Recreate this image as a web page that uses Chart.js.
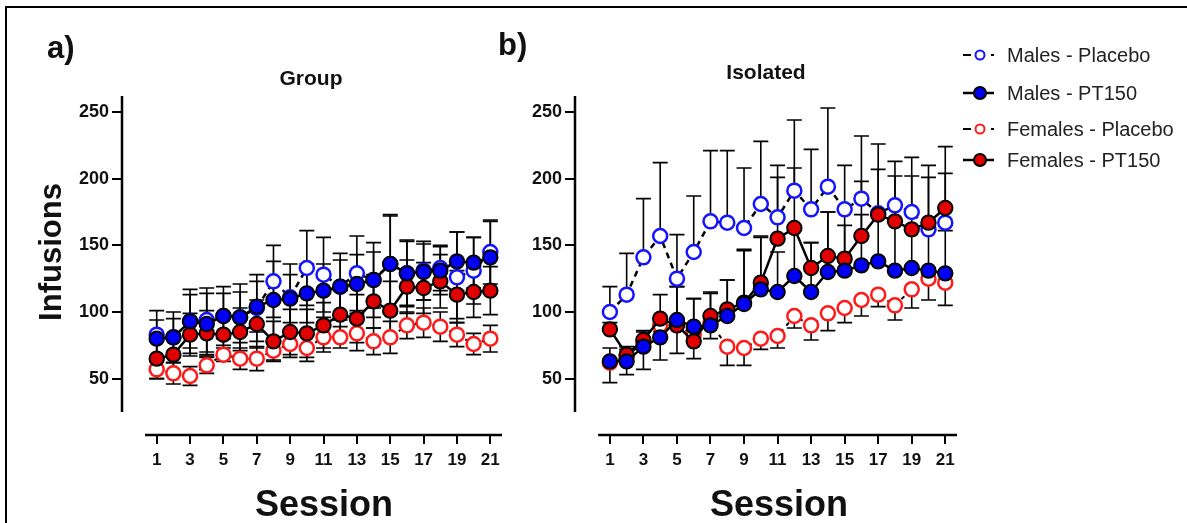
<!DOCTYPE html>
<html>
<head>
<meta charset="utf-8">
<script src="https://cdn.jsdelivr.net/npm/chart.js@4.4.0/dist/chart.umd.min.js"></script>
<style>
  html, body { margin: 0; padding: 0; background: #fff; }
  body { width: 1187px; height: 523px; position: relative; overflow: hidden; font-family: 'Liberation Sans', Arial, sans-serif; }
  canvas { position: absolute; top: 0; }
  #chartGroup { left: 0; }
  #chartIsolated { left: 520px; }
  .frame { position: absolute; left: 5px; top: 6px; width: 1300px; height: 600px; border-left: 2px solid #000; border-top: 2px solid #000; }
  .txt { position: absolute; line-height: 1; white-space: nowrap; font-weight: bold; color: #111; }
</style>
</head>
<body>
<div class="frame"></div>
<canvas id="chartGroup" width="520" height="523"></canvas>
<canvas id="chartIsolated" width="667" height="523"></canvas>
<div class="txt" id="lblA">a)</div>
<div class="txt" id="lblB">b)</div>
<div class="txt" id="titleGroup">Group</div>
<div class="txt" id="titleIsolated">Isolated</div>
<div class="txt" id="yTitle">Infusions</div>
<div class="txt" id="xTitleA">Session</div>
<div class="txt" id="xTitleB">Session</div>
<script>
// values
const sessions = [1, 2, 3, 4, 5, 6, 7, 8, 9, 10, 11, 12, 13, 14, 15, 16, 17, 18, 19, 20, 21];
const sessionTicks = [1, 3, 5, 7, 9, 11, 13, 15, 17, 19, 21];
const infusionTicks = [50, 100, 150, 200, 250];
const seriesLabels = ["Males - Placebo", "Males - PT150", "Females - Placebo", "Females - PT150"];

// a) Group
const groupMalesPlacebo      = [83, 81, 93, 94, 97, 96, 103, 123, 111, 133, 128, 119, 129, 124, 136, 129, 131, 133, 126, 131, 145];
const groupMalesPlaceboSem   = [18, 19, 24, 24, 22, 25, 25, 27, 25, 28, 28, 25, 28, 28, 37, 25, 22, 17, 34, 25, 24];
const groupMalesPT150        = [80, 81, 93, 91, 97, 96, 104, 109, 110, 114, 116, 119, 121, 124, 136, 129, 130, 131, 138, 137, 141];
const groupMalesPT150Sem     = [14, 14, 20, 23, 17, 19, 19, 29, 18, 22, 20, 20, 22, 21, 36, 24, 21, 18, 22, 19, 27];
const groupFemalesPlacebo    = [57, 54, 52, 60, 68, 65, 65, 71, 76, 73, 81, 81, 84, 78, 81, 90, 92, 89, 83, 76, 80];
const groupFemalesPlaceboSem = [7, 8, 7, 6, 5, 8, 9, 7, 10, 10, 11, 8, 13, 10, 12, 10, 11, 11, 9, 8, 10];
const groupFemalesPT150      = [65, 68, 83, 84, 83, 85, 91, 78, 85, 84, 90, 98, 95, 108, 101, 119, 118, 123, 113, 115, 116];
const groupFemalesPT150Sem   = [15, 14, 16, 17, 16, 18, 18, 15, 17, 18, 17, 18, 18, 20, 22, 20, 19, 20, 18, 19, 18];

// b) Isolated
const isoMalesPlacebo      = [100, 113, 141, 157, 125, 145, 168, 167, 163, 181, 171, 191, 177, 194, 177, 185, 174, 180, 175, 162, 167];
const isoMalesPlaceboSem   = [19, 31, 44, 55, 33, 42, 53, 54, 45, 47, 39, 53, 45, 59, 33, 47, 52, 33, 41, 48, 57];
const isoMalesPT150        = [63, 63, 74, 81, 94, 89, 90, 97, 106, 117, 115, 127, 115, 130, 131, 135, 138, 131, 133, 131, 129];
const isoMalesPT150Sem     = [10, 9, 11, 14, 25, 21, 24, 27, 40, 39, 30, 37, 37, 45, 34, 38, 35, 38, 30, 31, 32];
const isoFemalesPlacebo    = [62, 67, 77, 90, 90, 83, 92, 74, 73, 80, 82, 97, 90, 99, 103, 109, 113, 105, 117, 125, 122];
const isoFemalesPlaceboSem = [15, 14, 20, 26, 21, 18, 12, 14, 13, 8, 9, 9, 11, 13, 11, 12, 9, 11, 14, 16, 17];
const isoFemalesPT150      = [87, 68, 79, 95, 90, 78, 97, 102, 107, 122, 155, 163, 133, 142, 140, 157, 173, 168, 162, 167, 178];
const isoFemalesPT150Sem   = [5, 6, 7, 18, 29, 32, 18, 22, 40, 35, 46, 45, 19, 33, 38, 41, 34, 34, 40, 34, 26];

const FONT = "'Liberation Sans', Arial, sans-serif";
const X_MIN = -1.08, X_MAX = 21.7;      // axis line drawn from 0.3 to 21.7
const Y_MIN = 7.75, Y_MAX = 262;        // axis line drawn from 25 to 262
const CAP = 7.5;

function pts(vals) {
    return sessions.map((s, i) => ({x: s, y: vals[i]}));
}

function makeDatasets(mp, mpSem, mt, mtSem, fp, fpSem, ft, ftSem, dirs) {
    return [
        {label: seriesLabels[0], data: pts(mp), sem: mpSem, errDir: dirs[0], order: 2,
         borderColor: "#000", borderWidth: 2.5, borderDash: [6, 5],
         pointBackgroundColor: "#fff", pointBorderColor: "#1414ff", pointBorderWidth: 2.5, pointRadius: 7},
        {label: seriesLabels[1], data: pts(mt), sem: mtSem, errDir: dirs[1], order: 0,
         borderColor: "#000", borderWidth: 2.5,
         pointBackgroundColor: "#0000f5", pointBorderColor: "#000", pointBorderWidth: 2, pointRadius: 7.2},
        {label: seriesLabels[2], data: pts(fp), sem: fpSem, errDir: dirs[2], order: 3,
         borderColor: "#000", borderWidth: 2, borderDash: [4, 5],
         pointBackgroundColor: "#fff", pointBorderColor: "#ff1a1a", pointBorderWidth: 2.5, pointRadius: 7},
        {label: seriesLabels[3], data: pts(ft), sem: ftSem, errDir: dirs[3], order: 1,
         borderColor: "#000", borderWidth: 2.5,
         pointBackgroundColor: "#e00000", pointBorderColor: "#000", pointBorderWidth: 2, pointRadius: 7.2}
    ];
}

/*error bars under the markers, and the detached Prism-style axis lines*/
const errorBarsAndAxes = {
    id: "errorBarsAndAxes",
    beforeDatasetsDraw(chart) {
        const ctx = chart.ctx, xs = chart.scales.x, ys = chart.scales.y;
        ctx.save();
        ctx.strokeStyle = "#000";
        ctx.lineWidth = 1.6;
        chart.data.datasets.forEach(ds => {
            ds.data.forEach((pt, i) => {
                const e = ds.sem[i];
                const px = xs.getPixelForValue(pt.x);
                const yHi = ys.getPixelForValue(ds.errDir === "down" ? pt.y : pt.y + e);
                const yLo = ys.getPixelForValue(ds.errDir === "up" ? pt.y : pt.y - e);
                ctx.beginPath();
                ctx.moveTo(px, yHi);
                ctx.lineTo(px, yLo);
                if (ds.errDir !== "down") { ctx.moveTo(px - CAP, yHi); ctx.lineTo(px + CAP, yHi); }
                if (ds.errDir !== "up") { ctx.moveTo(px - CAP, yLo); ctx.lineTo(px + CAP, yLo); }
                ctx.stroke();
            });
        });
        ctx.restore();
    },
    afterDraw(chart) {
        const ctx = chart.ctx, xs = chart.scales.x, ys = chart.scales.y, a = chart.chartArea;
        ctx.save();
        ctx.strokeStyle = "#000";
        ctx.lineWidth = 2.5;
        ctx.beginPath();
        ctx.moveTo(a.left, ys.getPixelForValue(Y_MAX));
        ctx.lineTo(a.left, ys.getPixelForValue(25));
        ctx.moveTo(xs.getPixelForValue(0.3), a.bottom);
        ctx.lineTo(xs.getPixelForValue(21.7), a.bottom);
        ctx.stroke();
        ctx.restore();
    }
};

/*legend to the right of panel b*/
const legendRows = [55, 93, 129, 160];
const sideLegend = {
    id: "sideLegend",
    afterDraw(chart) {
        const ctx = chart.ctx;
        const x0 = 443, xc = 460, x1 = 474, xt = 487;
        ctx.save();
        chart.data.datasets.forEach((ds, i) => {
            const y = legendRows[i];
            const open = ds.pointBackgroundColor === "#fff";
            ctx.strokeStyle = "#000";
            ctx.lineWidth = open ? 2 : 2.5;
            ctx.beginPath();
            if (open) {
                ctx.moveTo(x0, y); ctx.lineTo(x0 + 8, y);
                ctx.moveTo(x1 - 3, y); ctx.lineTo(x1, y);
            } else {
                ctx.moveTo(x0, y); ctx.lineTo(x1, y);
            }
            ctx.stroke();
            ctx.beginPath();
            ctx.arc(xc, y, open ? 4.5 : 6, 0, Math.PI * 2);
            ctx.fillStyle = ds.pointBackgroundColor;
            ctx.fill();
            ctx.lineWidth = 2;
            ctx.strokeStyle = ds.pointBorderColor;
            ctx.stroke();
            ctx.fillStyle = "#222";
            ctx.font = "20px " + FONT;
            ctx.textBaseline = "middle";
            ctx.fillText(ds.label, xt, y + 1);
        });
        ctx.restore();
    }
};

function makeOptions(yWidth, rightPad) {
    return {
        responsive: false,
        animation: false,
        layout: {padding: {left: 0, top: 96, right: rightPad, bottom: 0}},
        plugins: {legend: {display: false}, tooltip: {enabled: false}},
        elements: {line: {tension: 0}},
        scales: {
            x: {
                type: "linear", min: X_MIN, max: X_MAX,
                afterBuildTicks: s => { s.ticks = sessionTicks.map(v => ({value: v})); },
                afterFit: s => { s.height = 88; },
                grid: {display: true, drawOnChartArea: false, drawTicks: true, tickLength: 9, color: "#000", lineWidth: 2},
                border: {display: false},
                ticks: {font: {size: 17, weight: "bold", family: FONT}, color: "#111", padding: 6, maxRotation: 0, autoSkip: false}
            },
            y: {
                type: "linear", min: Y_MIN, max: Y_MAX,
                afterBuildTicks: s => { s.ticks = infusionTicks.map(v => ({value: v})); },
                afterFit: s => { s.width = yWidth; },
                grid: {display: true, drawOnChartArea: false, drawTicks: true, tickLength: 10, color: "#000", lineWidth: 2},
                border: {display: false},
                ticks: {font: {size: 18, weight: "bold", family: FONT}, color: "#111", padding: 3}
            }
        }
    };
}

var chartGroup = new Chart(document.getElementById("chartGroup").getContext("2d"), {
    type: "line",
    data: {datasets: makeDatasets(groupMalesPlacebo, groupMalesPlaceboSem, groupMalesPT150, groupMalesPT150Sem,
                                  groupFemalesPlacebo, groupFemalesPlaceboSem, groupFemalesPT150, groupFemalesPT150Sem,
                                  ["both", "both", "both", "both"])},
    options: makeOptions(122, 18),
    plugins: [errorBarsAndAxes]
});

var chartIsolated = new Chart(document.getElementById("chartIsolated").getContext("2d"), {
    type: "line",
    data: {datasets: makeDatasets(isoMalesPlacebo, isoMalesPlaceboSem, isoMalesPT150, isoMalesPT150Sem,
                                  isoFemalesPlacebo, isoFemalesPlaceboSem, isoFemalesPT150, isoFemalesPT150Sem,
                                  ["up", "up", "down", "up"])},
    options: makeOptions(55, 230),
    plugins: [errorBarsAndAxes, sideLegend]
});

/*html labels, placed by baseline*/
function placeText(id, x, baseline, size, center) {
    const el = document.getElementById(id);
    el.style.fontSize = size + "px";
    el.style.top = (baseline - 0.8465 * size) + "px";
    el.style.left = x + "px";
    if (center) { el.style.transform = "translateX(-50%)"; }
}
placeText("lblA", 47, 58, 31, false);
placeText("lblB", 498, 55, 31, false);
placeText("titleGroup", 311, 85, 21, true);
placeText("titleIsolated", 766, 79, 21, true);
placeText("xTitleA", 324, 516, 36, true);
placeText("xTitleB", 779, 516, 36, true);
const yt = document.getElementById("yTitle");
yt.style.fontSize = "31px";
yt.style.left = "50px";
yt.style.top = "252px";
yt.style.transform = "translate(-50%, -50%) rotate(-90deg)";
</script>
</body>
</html>
